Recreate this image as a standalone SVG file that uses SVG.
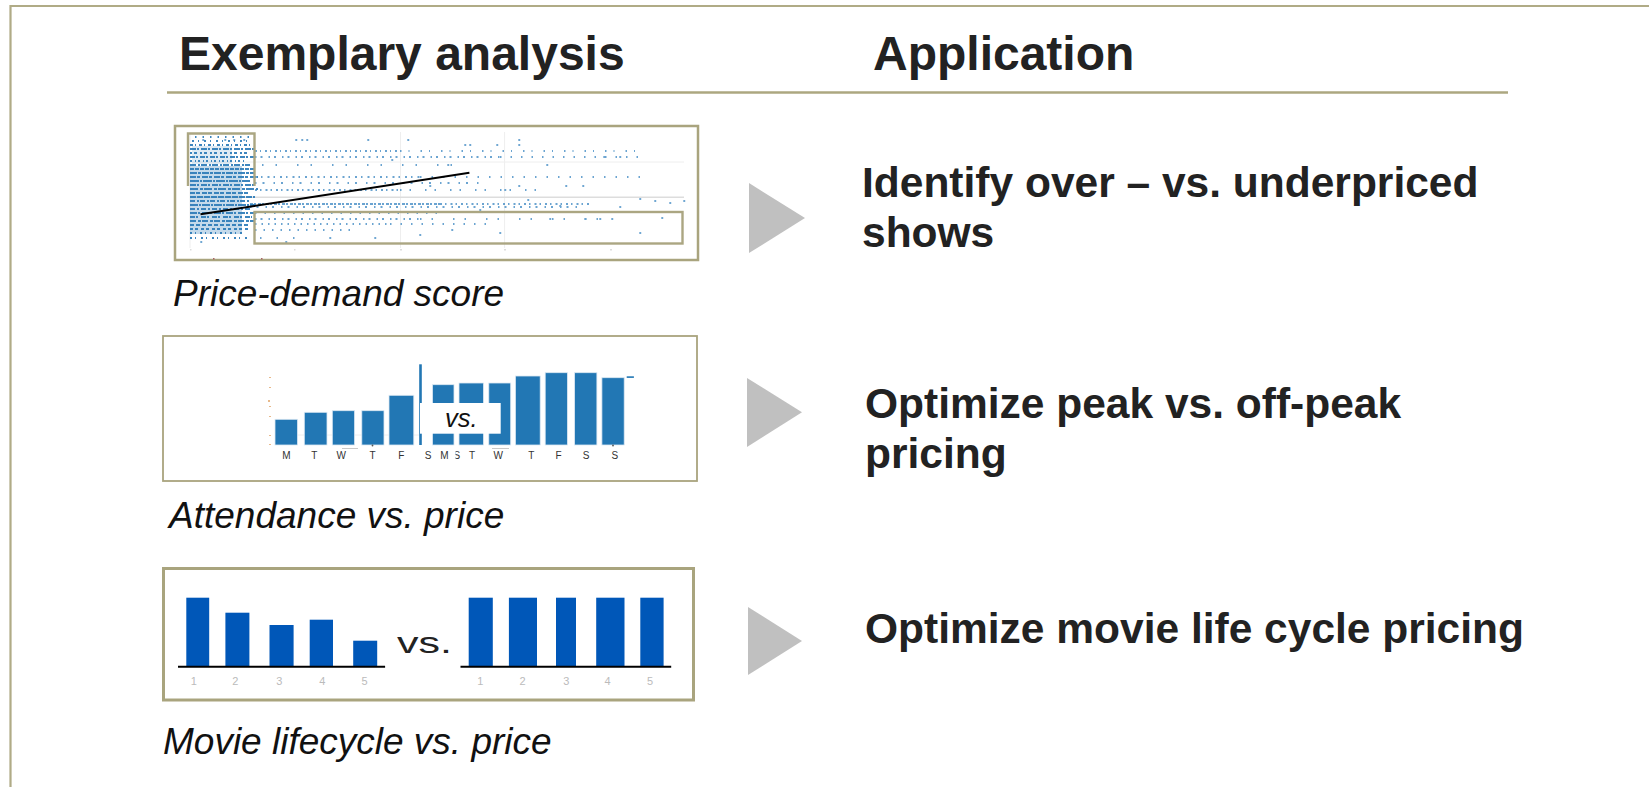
<svg xmlns="http://www.w3.org/2000/svg" width="1649" height="787" viewBox="0 0 1649 787">
<style>
.frame{stroke:#b0ab86;stroke-width:2.2;fill:none}
.rule{stroke:#aca780;stroke-width:2.6}
.panel{fill:#fff;stroke:#a9a47e}
.hdr{font-family:"Liberation Sans",Arial,sans-serif;font-weight:bold;font-size:48px;fill:#222}
.app{font-family:"Liberation Sans",Arial,sans-serif;font-weight:bold;font-size:42.5px;fill:#222}
.cap{font-family:"Liberation Sans",Arial,sans-serif;font-style:italic;font-size:37px;fill:#111}
.arrow{fill:#c0c0c0}
.bar2{fill:#2277b4;stroke:#dce8f3;stroke-width:0.8}
.bar3{fill:#0057b8}
.day{font-family:"Liberation Sans",Arial,sans-serif;font-size:10px;fill:#333;text-anchor:middle}
.num{font-family:"Liberation Sans",Arial,sans-serif;font-size:11px;fill:#bbb;text-anchor:middle}
.box{fill:none;stroke:#aba682;stroke-width:2.4}
.grid{stroke:#eee;stroke-width:1}
</style>
<defs>
<clipPath id="clipS"><rect x="455.5" y="448" width="10" height="14"/></clipPath>
</defs>
<rect width="1649" height="787" fill="#fff"/>
<g id="frame">
<path class="frame" d="M10.5,787 V6 H1649"/>
</g>
<g id="header">
<text class="hdr" x="179" y="70">Exemplary analysis</text>
<text class="hdr" x="873" y="70">Application</text>
<line class="rule" x1="167" y1="92.5" x2="1508" y2="92.5"/>
</g>

<g id="panel-price-demand">
<rect class="panel" x="175" y="126" width="523" height="134" stroke-width="2.5"/>
<g class="grid">
<line x1="190" y1="162" x2="684" y2="162"/>
<line x1="400.5" y1="132" x2="400.5" y2="248"/>
<line x1="504.6" y1="132" x2="504.6" y2="248"/>
<line x1="190" y1="133" x2="190" y2="248"/>
</g>
<line x1="190" y1="197.3" x2="684" y2="197.3" stroke="#ddd" stroke-width="1.6"/>
<rect x="190" y="166" width="52" height="68" fill="#2a7ab8" opacity="0.28"/>
<rect x="192" y="146" width="40" height="18" fill="#2a7ab8" opacity="0.15"/>
<g stroke="#2a7ab8" stroke-width="2.2" fill="none" opacity="0.9">
<line x1="195" y1="137" x2="250" y2="137" stroke-dasharray="1.5 6"/>
<line x1="192" y1="141" x2="250" y2="141" stroke-dasharray="2 4 1 5"/>
<line x1="190" y1="145" x2="252" y2="145" stroke-dasharray="3 2 1 3"/>
<line x1="190" y1="149" x2="255" y2="149" stroke-dasharray="6 1 2 2"/>
<line x1="190" y1="153" x2="250" y2="153" stroke-dasharray="2 2 3 3"/>
<line x1="190" y1="157" x2="255" y2="157" stroke-dasharray="5 1 2 2"/>
<line x1="190" y1="161" x2="245" y2="161" stroke-dasharray="2 3 1 2"/>
<line x1="190" y1="165" x2="250" y2="165" stroke-dasharray="6 2 2 1"/>
<line x1="190" y1="169" x2="255" y2="169" stroke-dasharray="4 1"/>
<line x1="190" y1="173" x2="255" y2="173" stroke-dasharray="7 1 3 1"/>
<line x1="190" y1="177" x2="258" y2="177" stroke-dasharray="6 1 3 2"/>
<line x1="190" y1="181" x2="250" y2="181" stroke-dasharray="9 1 2 1"/>
<line x1="190" y1="185" x2="255" y2="185" stroke-dasharray="6 1 2 2"/>
<line x1="190" y1="189" x2="258" y2="189" stroke-dasharray="8 2 3 1"/>
<line x1="190" y1="193" x2="250" y2="193" stroke-dasharray="5 1 4 2"/>
<line x1="190" y1="197" x2="255" y2="197" stroke-dasharray="6 1"/>
<line x1="190" y1="201" x2="250" y2="201" stroke-dasharray="5 2 2 1"/>
<line x1="190" y1="205" x2="255" y2="205" stroke-dasharray="8 1 2 1"/>
<line x1="190" y1="209" x2="250" y2="209" stroke-dasharray="5 2 2 2"/>
<line x1="190" y1="213" x2="255" y2="213" stroke-dasharray="7 1 2 2"/>
<line x1="190" y1="217" x2="252" y2="217" stroke-dasharray="5 1 2 3"/>
<line x1="190" y1="221" x2="255" y2="221" stroke-dasharray="6 2 3 1"/>
<line x1="190" y1="225" x2="250" y2="225" stroke-dasharray="4 2"/>
<line x1="190" y1="229" x2="248" y2="229" stroke-dasharray="3 2 3 3"/>
<line x1="190" y1="233" x2="245" y2="233" stroke-dasharray="2 3 1 4"/>
<line x1="190" y1="238" x2="250" y2="238" stroke-dasharray="2 3 1 5"/>
</g>
<g stroke="#3a86c2" stroke-width="1.8" fill="none" opacity="0.75">
<line x1="255" y1="151" x2="400" y2="151" stroke-dasharray="2 3 1 4"/>
<line x1="400" y1="151" x2="640" y2="151" stroke-dasharray="1.5 7 1 11"/>
<line x1="255" y1="157" x2="500" y2="157" stroke-dasharray="1.5 4 2 6"/>
<line x1="500" y1="157" x2="640" y2="157" stroke-dasharray="1.5 9"/>
<line x1="262" y1="165" x2="470" y2="165" stroke-dasharray="1.5 12 1.5 20"/>
<line x1="255" y1="177" x2="420" y2="177" stroke-dasharray="2 4 1.5 5"/>
<line x1="420" y1="177" x2="640" y2="177" stroke-dasharray="1.5 10"/>
<line x1="255" y1="183" x2="480" y2="183" stroke-dasharray="1.5 6 2 9"/>
<line x1="255" y1="190" x2="400" y2="190" stroke-dasharray="2 3 1.5 4"/>
<line x1="400" y1="190" x2="540" y2="190" stroke-dasharray="1.5 8 1.5 14"/>
<line x1="250" y1="204" x2="440" y2="204" stroke-dasharray="3 1 2 2"/>
<line x1="440" y1="204" x2="590" y2="204" stroke-dasharray="2 3 1.5 4"/>
<line x1="250" y1="207" x2="580" y2="207" stroke-dasharray="1.5 5 2 7"/>
<line x1="255" y1="213" x2="440" y2="213" stroke-dasharray="1.5 8"/>
<line x1="255" y1="219" x2="420" y2="219" stroke-dasharray="1.5 4 2 6"/>
<line x1="420" y1="219" x2="600" y2="219" stroke-dasharray="1.5 10 1.5 20"/>
<line x1="255" y1="224" x2="390" y2="224" stroke-dasharray="1.5 5"/>
<line x1="390" y1="224" x2="490" y2="224" stroke-dasharray="1.5 9"/>
<line x1="255" y1="230" x2="350" y2="230" stroke-dasharray="1.5 7"/>
<line x1="260" y1="238" x2="300" y2="238" stroke-dasharray="1.5 15"/>
<path stroke-linecap="round" d="M203,140h.5M225,140h.5M234,140h.5M244,140h.5M296,140h.5M302,140h.5M307,140h.5M368,140h.5M408,140h.5M519,140h.5M465,145h.5M470,145h.5M497,145h.5M519,145h.5M392,160h.5M448,165h.5M430,186h.5M519,186h.5M505,190h.5M480,210h.5M640,199h.5M640,233h.5M620,207h.5M560,206h.5M550,219h.5M600,219h.5M655,201h.5M670,203h.5M684,201h.5M662,218h.5M640,212h.5M566,186h.5M583,186h.5M604,157h.5M620,157h.5M547,165h.5M528,200h.5M500,233h.5M452,230h.5M420,235h.5M375,238h.5M330,238h.5M286,242h.5M201,242h.5M585,219h.5M540,212h.5M612,219h.5"/>
</g>
<path class="box" d="M188,186 V133.5 H254.5 V186"/>
<rect class="box" x="254.5" y="212" width="428" height="31.5"/>
<line x1="200.5" y1="214.3" x2="469.4" y2="172.7" stroke="#000" stroke-width="2"/>
<g fill="#ddd">
<rect x="190" y="249" width="1.5" height="1.5"/>
<rect x="294" y="249" width="1.5" height="1.5"/>
<rect x="400" y="249" width="2" height="1.5"/>
<rect x="504" y="249" width="2" height="1.5"/>
<rect x="610" y="249" width="2" height="1.5"/>
</g>
<g fill="#a66">
<rect x="213" y="258" width="1.5" height="1.5"/>
<rect x="261" y="258" width="1.5" height="1.5"/>
</g>
</g>
<g id="caption-price-demand">
<text class="cap" x="173" y="306">Price-demand score</text>
</g>

<g id="panel-attendance">
<rect class="panel" x="163" y="336" width="534" height="145" stroke-width="1.8"/>
<line x1="275" y1="435" x2="420" y2="435" stroke="#eee" stroke-width="1"/>
<g fill="#e8b98a">
<rect x="269" y="377" width="2" height="1"/>
<rect x="269" y="387" width="2" height="1"/>
<rect x="268" y="400" width="2" height="2"/>
<rect x="269" y="406" width="2" height="1"/>
<rect x="269" y="416" width="2" height="1"/>
<rect x="269" y="435" width="2" height="1"/>
<rect x="269" y="444" width="2" height="1"/>
</g>
<rect class="bar2" x="275" y="419.3" width="22.5" height="25.7"/>
<rect class="bar2" x="304.3" y="412.3" width="22.7" height="32.7"/>
<rect class="bar2" x="332.3" y="410.7" width="22.3" height="34.3"/>
<rect class="bar2" x="361.8" y="410.7" width="22.2" height="34.3"/>
<rect class="bar2" x="389" y="395.3" width="24.8" height="49.7"/>
<rect x="419.2" y="364.3" width="2.6" height="80.7" fill="#2277b4"/>
<rect class="bar2" x="432.5" y="384.7" width="21.5" height="60.3"/>
<rect class="bar2" x="459" y="383" width="24.5" height="62"/>
<rect class="bar2" x="488.8" y="383" width="21.9" height="62"/>
<rect class="bar2" x="515.4" y="376" width="24.8" height="69"/>
<rect class="bar2" x="545.2" y="372.7" width="22.2" height="72.3"/>
<rect class="bar2" x="574.6" y="372.7" width="22.3" height="72.3"/>
<rect class="bar2" x="601.9" y="377.7" width="22.3" height="67.3"/>
<rect x="626.7" y="376.3" width="7.2" height="1.6" fill="#2277b4"/>
<rect x="342" y="448" width="16" height="0.8" fill="#bbb"/>
<rect x="492" y="448" width="17" height="0.8" fill="#bbb"/>
<circle cx="372.5" cy="445.5" r="0.9" fill="#555"/>
<circle cx="613" cy="445.5" r="0.9" fill="#555"/>
<rect x="420" y="403" width="80.7" height="30.7" fill="#fff"/>
<text x="445" y="426.7" font-family="Liberation Sans, Arial, sans-serif" font-style="italic" font-size="25.5" fill="#111">vs.</text>
<text class="day" x="286.4" y="458.5">M</text>
<text class="day" x="314.4" y="458.5">T</text>
<text class="day" x="341.3" y="458.5">W</text>
<text class="day" x="372.5" y="458.5">T</text>
<text class="day" x="401.3" y="458.5">F</text>
<text class="day" x="428.2" y="458.5">S</text>
<text class="day" x="444.3" y="458.5">M</text>
<text class="day" x="456.9" y="458.5" clip-path="url(#clipS)">S</text>
<text class="day" x="472" y="458.5">T</text>
<text class="day" x="498.2" y="458.5">W</text>
<text class="day" x="531.2" y="458.5">T</text>
<text class="day" x="558.5" y="458.5">F</text>
<text class="day" x="586.1" y="458.5">S</text>
<text class="day" x="614.8" y="458.5">S</text>
</g>
<g id="caption-attendance">
<text class="cap" x="169" y="528">Attendance vs. price</text>
</g>

<g id="panel-lifecycle">
<rect class="panel" x="163.5" y="568.5" width="530" height="131.5" stroke-width="3" stroke="#9e9a6e"/>
<rect class="bar3" x="186.3" y="597.7" width="22.9" height="68.6"/>
<rect class="bar3" x="225.4" y="612.7" width="24" height="53.6"/>
<rect class="bar3" x="269.5" y="625" width="24.1" height="41.3"/>
<rect class="bar3" x="309.7" y="619.7" width="23.3" height="46.6"/>
<rect class="bar3" x="353.2" y="640.7" width="24" height="25.6"/>
<rect class="bar3" x="468.7" y="597.7" width="24.1" height="68.6"/>
<rect class="bar3" x="508.9" y="597.7" width="28.1" height="68.6"/>
<rect class="bar3" x="556" y="597.7" width="20" height="68.6"/>
<rect class="bar3" x="596.2" y="597.7" width="28.3" height="68.6"/>
<rect class="bar3" x="640.3" y="597.7" width="23.3" height="68.6"/>
<line x1="178" y1="666.8" x2="385.1" y2="666.8" stroke="#000" stroke-width="2"/>
<line x1="460.5" y1="666.8" x2="671.2" y2="666.8" stroke="#000" stroke-width="2"/>
<text x="397" y="652.5" font-family="Liberation Sans, Arial, sans-serif" font-size="30" fill="#222" textLength="55" lengthAdjust="spacingAndGlyphs">vs.</text>
<text class="num" x="193.8" y="684.5">1</text>
<text class="num" x="235.4" y="684.5">2</text>
<text class="num" x="279.2" y="684.5">3</text>
<text class="num" x="322.3" y="684.5">4</text>
<text class="num" x="364.6" y="684.5">5</text>
<text class="num" x="480.2" y="684.5">1</text>
<text class="num" x="522.6" y="684.5">2</text>
<text class="num" x="566.4" y="684.5">3</text>
<text class="num" x="607.6" y="684.5">4</text>
<text class="num" x="650" y="684.5">5</text>
</g>
<g id="caption-lifecycle">
<text class="cap" x="163" y="754">Movie lifecycle vs. price</text>
</g>

<g id="connectors">
<path class="arrow" d="M749,183 L805,218 L749,253 Z"/>
<path class="arrow" d="M747,378 L802,412.3 L747,447 Z"/>
<path class="arrow" d="M748,607 L802,641 L748,675 Z"/>
</g>

<g id="app-1">
<text class="app" x="862" y="196.7">Identify over – vs. underpriced</text>
<text class="app" x="862" y="246.7">shows</text>
</g>
<g id="app-2">
<text class="app" x="865" y="418.3">Optimize peak vs. off-peak</text>
<text class="app" x="865" y="468">pricing</text>
</g>
<g id="app-3">
<text class="app" x="865" y="643">Optimize movie life cycle pricing</text>
</g>
</svg>
